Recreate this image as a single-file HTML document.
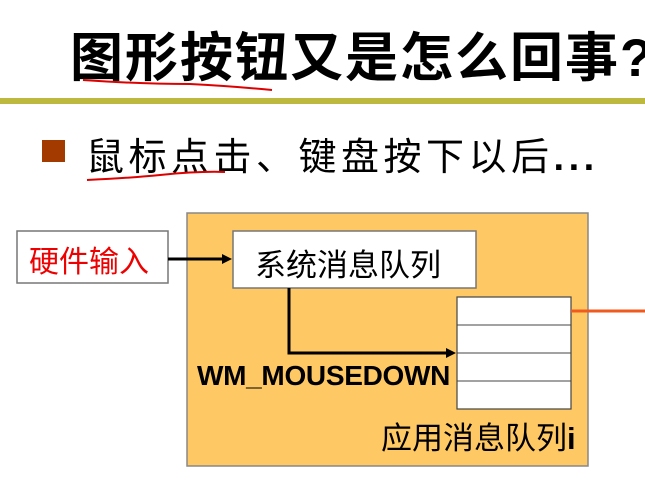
<!DOCTYPE html>
<html><head><meta charset="utf-8"><style>
body{margin:0;width:645px;height:486px;background:#fff;position:relative;overflow:hidden;font-family:"Liberation Sans","Noto Sans CJK SC",sans-serif}
.a{position:absolute;white-space:nowrap}
</style></head><body>
<div class="a" style="left:70px;top:16px;font-size:53px;font-weight:bold;letter-spacing:2px;color:#000">图形按钮又是怎么回事?</div>
<div class="a" style="left:0;top:98px;width:645px;height:6px;background:#bdb83e"></div>
<div class="a" style="left:42px;top:140px;width:23px;height:22px;background:#a33a00"></div>
<div class="a" style="left:86px;top:126px;font-size:38px;letter-spacing:4.5px;color:#000">鼠标点击、键盘按下以后<b>...</b></div>
<svg class="a" style="left:0;top:0" width="645" height="486">
<path d="M83 80 Q140 84 190 84 Q230 86 272 90" stroke="#d00" stroke-width="2" fill="none"/>
<path d="M87 180 Q130 178 160 175 Q200 171 225 172" stroke="#d00" stroke-width="2" fill="none"/>
<rect x="187" y="213" width="401" height="253" fill="#fec964" stroke="#888" stroke-width="1.5"/>
<rect x="17" y="231" width="151" height="52" fill="#fff" stroke="#777" stroke-width="1.5"/>
<rect x="233" y="231" width="243" height="57" fill="#fff" stroke="#777" stroke-width="1.5"/>
<rect x="457" y="297" width="114" height="112" fill="#fff" stroke="#444" stroke-width="1.2"/>
<line x1="457" y1="325" x2="571" y2="325" stroke="#444"/>
<line x1="457" y1="353" x2="571" y2="353" stroke="#444"/>
<line x1="457" y1="381" x2="571" y2="381" stroke="#444"/>
<line x1="571" y1="311" x2="645" y2="311" stroke="#f05a1e" stroke-width="3"/>
<line x1="168" y1="259" x2="224" y2="259" stroke="#000" stroke-width="3"/>
<polygon points="232,259 222,254 222,264" fill="#000"/>
<polyline points="289,288 289,353 448,353" stroke="#000" stroke-width="3" fill="none"/>
<polygon points="456,353 446,348 446,358" fill="#000"/>
</svg>
<div class="a" style="left:29px;top:237px;font-size:30px;color:#e00">硬件输入</div>
<div class="a" style="left:255px;top:240px;font-size:31px;color:#000">系统消息队列</div>
<div class="a" style="left:197px;top:360px;font-size:28px;font-weight:bold;letter-spacing:-0.3px;color:#000">WM_MOUSEDOWN</div>
<div class="a" style="left:381px;top:413px;font-size:31px;color:#000">应用消息队列<b>i</b></div>
</body></html>
